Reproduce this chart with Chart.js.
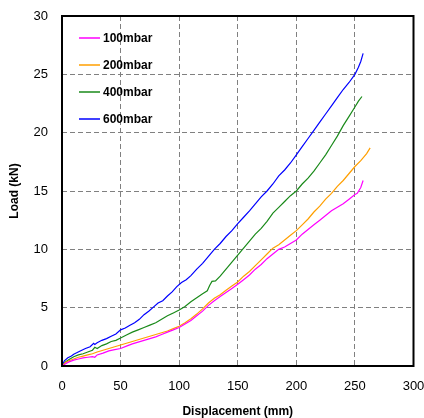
<!DOCTYPE html>
<html>
<head>
<meta charset="utf-8">
<script src="https://cdn.jsdelivr.net/npm/chart.js@4.4.1/dist/chart.umd.min.js"></script>
<style>
  html, body { margin: 0; padding: 0; background: #fff; }
  #wrap { width: 424px; height: 418px; }
</style>
</head>
<body>
<div id="wrap"><canvas id="c"></canvas></div>
<script>
// values
const labels = ["100mbar", "200mbar", "400mbar", "600mbar"];
const colors = ["#ff00ff", "#ff9f00", "#1a8a1a", "#0000ff"];

const disp100 = [0,3,6,10,14,18,22,26,28,30,35,40,45,50,55,60,65,70,75,80,85,90,95,100,105,110,115,120,125,130,135,140,145,150,155,160,165,170,175,180,185,190,195,200,205,210,215,220,225,230,235,240,245,250,252,255,257];
const load100 = [0,0.2,0.35,0.5,0.6,0.7,0.75,0.8,0.75,0.95,1.1,1.3,1.4,1.5,1.7,1.9,2.05,2.2,2.35,2.5,2.7,2.9,3.1,3.3,3.6,3.9,4.3,4.7,5.2,5.6,5.95,6.3,6.65,7.0,7.4,7.8,8.3,8.7,9.2,9.6,10.0,10.2,10.5,10.8,11.3,11.7,12.1,12.5,12.9,13.3,13.6,13.9,14.3,14.7,14.8,15.3,15.9];

const disp200 = [0,3,6,10,14,18,22,26,30,35,40,45,50,55,60,65,70,75,80,85,90,95,100,105,110,115,120,125,130,135,140,145,150,155,160,165,170,175,180,185,190,195,200,205,210,215,220,225,230,235,240,245,250,255,260,263];
const load200 = [0,0.3,0.45,0.6,0.75,0.85,0.95,1.05,1.2,1.35,1.5,1.65,1.8,1.95,2.1,2.25,2.4,2.55,2.7,2.85,3.0,3.2,3.4,3.7,4.05,4.45,4.9,5.4,5.8,6.1,6.5,6.85,7.2,7.7,8.1,8.6,9.1,9.6,10.1,10.4,10.8,11.2,11.6,12.1,12.6,13.2,13.7,14.3,14.8,15.4,15.9,16.5,17.1,17.6,18.2,18.7];

const disp400 = [0,3,6,10,14,18,22,26,28,30,34,38,42,46,50,55,60,65,70,75,80,85,90,95,100,105,110,115,120,124,126,128,131,135,140,145,150,155,160,165,170,175,180,185,190,195,200,205,210,215,220,225,230,235,240,245,250,253,256];
const load400 = [0,0.35,0.55,0.8,0.95,1.05,1.2,1.35,1.6,1.5,1.75,1.9,2.1,2.2,2.4,2.65,2.9,3.1,3.3,3.5,3.7,4.0,4.3,4.55,4.8,5.1,5.5,5.85,6.2,6.45,6.9,7.25,7.3,7.7,8.3,8.9,9.5,10.1,10.7,11.3,11.8,12.4,13.1,13.6,14.1,14.6,15.0,15.6,16.1,16.7,17.4,18.1,18.9,19.7,20.6,21.4,22.2,22.7,23.1];

const disp600 = [0,2,5,8,10,13,16,20,24,27,28,30,34,38,42,46,50,54,58,62,66,70,74,78,82,86,90,94,98,102,106,110,115,120,125,130,135,140,145,150,155,160,165,170,175,180,185,190,195,200,205,210,215,220,225,230,235,240,245,250,253,255,257];
const load600 = [0,0.45,0.7,0.85,1.0,1.15,1.3,1.5,1.65,1.95,1.85,2.0,2.2,2.35,2.55,2.75,3.1,3.25,3.5,3.7,4.0,4.4,4.7,5.05,5.4,5.6,6.0,6.35,6.8,7.15,7.4,7.75,8.3,8.8,9.4,10.0,10.5,11.1,11.6,12.2,12.75,13.3,13.9,14.5,15.0,15.6,16.3,16.8,17.4,18.1,18.8,19.5,20.2,20.9,21.6,22.3,23.0,23.7,24.3,25.0,25.6,26.1,26.8];

const xTicks = [0, 50, 100, 150, 200, 250, 300];
const yTicks = [0, 5, 10, 15, 20, 25, 30];

const allDisp = [disp100, disp200, disp400, disp600];
const allLoad = [load100, load200, load400, load600];

const font = "'Liberation Sans', Arial, sans-serif";

// frame round the plot area
const framePlugin = {
  id: "frame",
  afterDraw(chart) {
    const { ctx, chartArea: a } = chart;
    ctx.save();
    ctx.strokeStyle = "#000";
    ctx.lineWidth = 2;
    ctx.strokeRect(a.left, a.top, a.right - a.left, a.bottom - a.top);
    ctx.restore();
  },
};

// legend drawn inside the plot, top left
const insideLegend = {
  id: "insideLegend",
  afterDraw(chart) {
    const { ctx, chartArea: a } = chart;
    ctx.save();
    ctx.font = "bold 12px " + font;
    ctx.textBaseline = "middle";
    ctx.fillStyle = "#000";
    chart.data.datasets.forEach((ds, i) => {
      const y = a.top + 22 + i * 27;
      ctx.strokeStyle = ds.borderColor;
      ctx.lineWidth = 1.5;
      ctx.beginPath();
      ctx.moveTo(a.left + 17, y);
      ctx.lineTo(a.left + 38, y);
      ctx.stroke();
      ctx.fillText(ds.label, a.left + 41, y + 0.5);
    });
    ctx.restore();
  },
};

new Chart(document.getElementById("c"), {
  type: "line",
  data: {
    datasets: labels.map((label, i) => ({
      label,
      data: allDisp[i].map((x, j) => ({ x, y: allLoad[i][j] })),
      borderColor: colors[i],
      backgroundColor: colors[i],
      borderWidth: 1.2,
      pointRadius: 0,
      tension: 0,
      fill: false,
    })),
  },
  plugins: [framePlugin, insideLegend],
  options: {
    responsive: true,
    maintainAspectRatio: false,
    animation: false,
    layout: { padding: { left: 7, top: 16, right: 10.5, bottom: 0 } },
    plugins: {
      legend: { display: false },
      tooltip: { enabled: false },
    },
    scales: {
      x: {
        type: "linear",
        min: 0,
        max: 300,
        afterBuildTicks: (s) => { s.ticks = xTicks.map((v) => ({ value: v })); },
        afterFit: (s) => { s.height = 52; s.paddingLeft = 0; s.paddingRight = 0; },
        grid: { color: "#808080", lineWidth: 1, drawTicks: false },
        border: { display: false, dash: [5, 3] },
        ticks: { color: "#000", padding: 13, font: { family: font, size: 13 } },
        title: {
          display: true,
          text: "Displacement (mm)",
          color: "#000",
          padding: 0,
          font: { family: font, size: 12, weight: "bold", lineHeight: 1 },
        },
      },
      y: {
        type: "linear",
        min: 0,
        max: 30,
        afterBuildTicks: (s) => { s.ticks = yTicks.map((v) => ({ value: v })); },
        afterFit: (s) => { s.width = 55; s.paddingTop = 0; s.paddingBottom = 0; },
        grid: { color: "#808080", lineWidth: 1, drawTicks: false },
        border: { display: false, dash: [5, 3] },
        ticks: { color: "#000", padding: 14, font: { family: font, size: 13 } },
        title: {
          display: true,
          text: "Load (kN)",
          color: "#000",
          padding: 0,
          font: { family: font, size: 12, weight: "bold", lineHeight: 1.2 },
        },
      },
    },
  },
});
</script>
</body>
</html>
